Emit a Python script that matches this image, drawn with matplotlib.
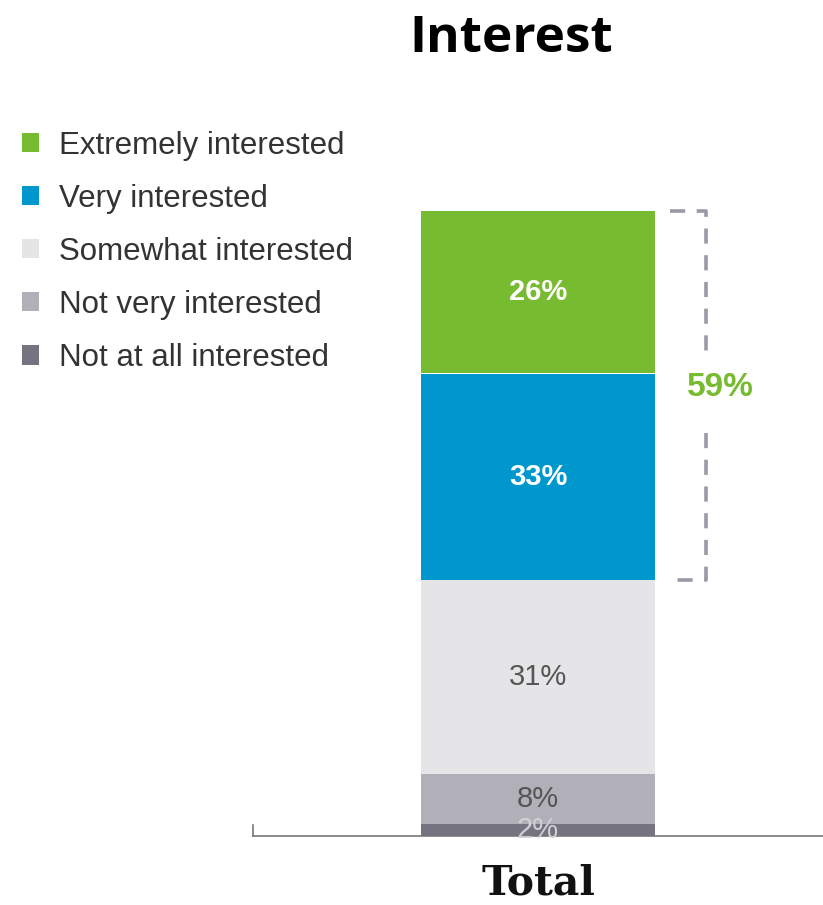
import matplotlib
matplotlib.use("Agg")
import matplotlib.pyplot as plt
from matplotlib.patches import Patch

# Survey responses, stacked bottom to top
categories = ["Not at all interested", "Not very interested", "Somewhat interested",
              "Very interested", "Extremely interested"]
values = [2, 8, 31, 33, 26]
colors = ["#75737f", "#b1b0b9", "#e5e5e7", "#0097cc", "#77bb30"]
label_colors = ["#d0d0d4", "#555555", "#555555", "#ffffff", "#ffffff"]
label_weights = ["normal", "normal", "normal", "bold", "bold"]
column = ["Total"]
top_two_box = values[3] + values[4]

W, H = 823, 905
fig = plt.figure(figsize=(W / 100, H / 100), dpi=100)

# axes spanning the bar region: y 0..100 mapped onto the bar height
ax_left, ax_right = 253, 823
y_bottom, y_top = 836, 211
ax = fig.add_axes([ax_left / W, (H - y_bottom) / H, (ax_right - ax_left) / W, (y_bottom - y_top) / H])
ax.set_xlim(-0.974, 0.974)
ax.set_ylim(0, 100)

bar_w = 0.8
bottom = 0
for cat, v, c, lc, lw_ in zip(categories, values, colors, label_colors, label_weights):
    ax.bar(0, v, width=bar_w, bottom=bottom, color=c, edgecolor="none")
    ax.text(0, bottom + v / 2, f"{v}%", ha="center", va="center", color=lc,
            fontsize=21, fontweight=lw_, family="Liberation Sans")
    bottom += v

for s in ["top", "right", "left"]:
    ax.spines[s].set_visible(False)
ax.spines["bottom"].set_color("#777777")
ax.spines["bottom"].set_linewidth(1.2)
ax.set_yticks([])
ax.set_xticks([])
# small end tick at the left of the baseline
ax.plot([-0.974, -0.974], [0, 1.8], color="#777777", lw=1.2, clip_on=False)

ax.text(0, -9.4, column[0], ha="center", va="baseline", fontsize=29.5, fontweight="bold",
        family="DejaVu Serif", color="#111111")

# dashed bracket around the top-two box
y_lo = values[0] + values[1] + values[2]
y_hi = 100
bx0, bx1 = 0.451, 0.574
y_mid = (y_lo + y_hi) / 2
gap = 6.0
br = dict(color="#9a9aa6", lw=2.6, dashes=(4.2, 3.2), solid_capstyle="butt",
          dash_capstyle="butt", solid_joinstyle="round", dash_joinstyle="round",
          clip_on=False)
ax.plot([bx0, bx1, bx1], [y_hi, y_hi, y_mid + gap], **br)
ax.plot([bx1, bx1, bx0], [y_mid - gap, y_lo, y_lo], **br)
ax.text(0.624, y_mid + 1.2, f"{top_two_box}%", ha="center", va="center", color="#77bb30",
        fontsize=24, fontweight="bold", family="Liberation Sans")

fig.text(511 / W, 1 - 39 / H, "Interest", ha="center", va="center", fontsize=37,
         fontweight="bold", family="Open Sans", color="#000000")

handles = [Patch(facecolor=c, edgecolor="none") for c in colors[::-1]]
leg = fig.legend(handles, categories[::-1], loc="upper left",
                 bbox_to_anchor=(9 / W, 1 - 118 / H), frameon=False,
                 prop={"family": "Liberation Sans", "size": 22.5},
                 handlelength=0.57, handleheight=0.57, handletextpad=0.62,
                 labelspacing=0.74, borderaxespad=0)
for t in leg.get_texts():
    t.set_color("#333333")

fig.savefig("out.png", dpi=100)
